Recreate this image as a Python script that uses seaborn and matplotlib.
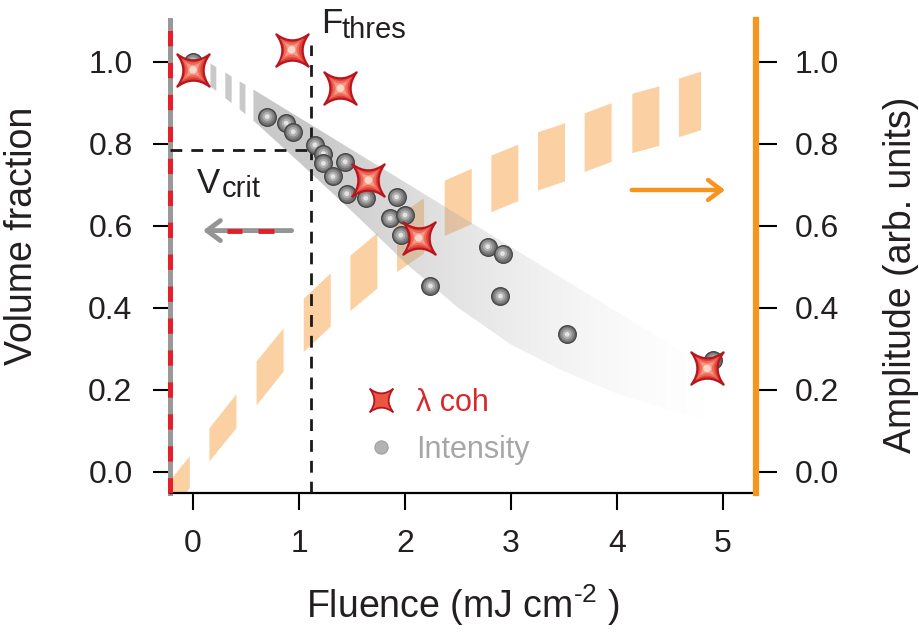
import numpy as np
import pandas as pd
import matplotlib
matplotlib.use("Agg")
import matplotlib.pyplot as plt
import seaborn as sns
from matplotlib.path import Path
from matplotlib.lines import Line2D
from matplotlib.ticker import FormatStrFormatter

# ---------------- data ----------------
intensity_fluence = [0.0, 0.70, 0.88, 0.945, 1.15, 1.23, 1.23, 1.32, 1.435, 1.45,
                     1.63, 1.86, 1.92, 1.96, 2.00, 2.24, 2.78, 2.90, 2.92, 3.53, 4.91]
intensity_value = [1.0, 0.866, 0.85, 0.829, 0.797, 0.776, 0.752, 0.72, 0.756, 0.678,
                   0.667, 0.618, 0.67, 0.577, 0.626, 0.453, 0.549, 0.428, 0.532, 0.335, 0.272]

coh_fluence = [0.0, 0.93, 1.39, 1.655, 2.13, 4.85]
coh_value = [0.98, 1.029, 0.935, 0.711, 0.570, 0.252]

# amplitude band (orange, dashed): boundaries of each dash, upper / lower edge
amp_x = [-0.29, -0.035, 0.15, 0.405, 0.595, 0.85, 1.04, 1.295, 1.48, 1.735, 1.92, 2.175,
         2.37, 2.625, 2.81, 3.065, 3.25, 3.505, 3.69, 3.945, 4.14, 4.395, 4.58, 4.79]
amp_upper = [-0.043, 0.039, 0.107, 0.190, 0.270, 0.351, 0.423, 0.485, 0.528, 0.583, 0.623, 0.668,
             0.711, 0.740, 0.772, 0.799, 0.829, 0.851, 0.875, 0.900, 0.923, 0.941, 0.960, 0.977]
amp_lower = [-0.118, -0.039, 0.026, 0.107, 0.163, 0.245, 0.293, 0.355, 0.393, 0.448, 0.488, 0.533,
             0.576, 0.605, 0.634, 0.661, 0.687, 0.709, 0.732, 0.757, 0.778, 0.796, 0.817, 0.834]

# intensity guide band (grey wedge): first three pairs are stripes, then solid
band_x = [0.16, 0.215, 0.30, 0.36, 0.435, 0.49, 0.57, 1.0, 1.5, 2.0, 2.5, 3.0, 3.5, 4.0, 4.5, 4.9]
band_upper = [0.997, 0.988, 0.975, 0.965, 0.953, 0.945, 0.932, 0.864, 0.785, 0.706, 0.627,
              0.548, 0.469, 0.390, 0.311, 0.248]
band_lower = [0.940, 0.930, 0.912, 0.900, 0.885, 0.873, 0.856, 0.755, 0.635, 0.510, 0.400,
              0.310, 0.245, 0.190, 0.150, 0.125]

F_THRES = 1.115
V_CRIT = 0.784
x_ticks = [0, 1, 2, 3, 4, 5]
y_ticks = [0.0, 0.2, 0.4, 0.6, 0.8, 1.0]
XMIN, XMAX = -0.217, 5.307
YMIN, YMAX = -0.052, 1.102

# ---------------- style ----------------
sns.set_theme(style="ticks")
plt.rcParams["font.family"] = ["Liberation Sans", "DejaVu Sans"]
plt.rcParams["mathtext.fontset"] = "custom"
plt.rcParams["mathtext.rm"] = "Liberation Sans"
plt.rcParams["mathtext.it"] = "Liberation Sans:italic"
plt.rcParams["lines.scale_dashes"] = False
TXT = "#231f20"
ORANGE = "#f7941d"
RED = "#e3202a"

fig = plt.figure(figsize=(9.19, 6.40), dpi=100)
ax = fig.add_axes([0.185, 0.2297, 0.6371, 0.7393])

# orange dashed amplitude band
for i in range(0, len(amp_x) - 1, 2):
    ax.fill_between(amp_x[i:i + 2], amp_lower[i:i + 2], amp_upper[i:i + 2],
                    color="#fbd1a4", lw=0, zorder=1)

# grey wedge: stripes
GREY = "#9e9e9e"
for i in range(0, 6, 2):
    ax.fill_between(band_x[i:i + 2], band_lower[i:i + 2], band_upper[i:i + 2],
                    color=GREY, alpha=0.55, lw=0, zorder=2)
# grey wedge: solid part with fading gradient
poly = ax.fill_between(band_x[6:], band_lower[6:], band_upper[6:],
                       facecolor="none", edgecolor="none", zorder=2)
gx = np.linspace(band_x[6], band_x[-1], 400)
alpha = np.where(gx < 1.2, 0.55, 0.55 * np.clip((5.0 - gx) / 3.8, 0, 1) ** 1.6)
rgba = np.zeros((1, gx.size, 4))
rgba[..., :3] = 0.62
rgba[0, :, 3] = alpha
im = ax.imshow(rgba, extent=[band_x[6], band_x[-1], min(band_lower), max(band_upper)],
               aspect="auto", origin="lower", zorder=2, interpolation="bilinear")
im.set_clip_path(poly.get_paths()[0], transform=ax.transData)

# threshold dashed lines
ax.plot([F_THRES, F_THRES], [YMIN, 1.04], color="#1a1a1a", lw=2.0,
        ls=(0, (8.5, 6.5)), zorder=3)
ax.plot([XMIN, F_THRES], [V_CRIT, V_CRIT], color="#1a1a1a", lw=2.0,
        ls=(0, (8.5, 6.5)), zorder=3)

# intensity spheres (layered shading)
sphere_layers = [(160, "#6f6f6f", "#474747", 1.0), (95, "#8c8c8c", "none", 0),
                 (45, "#b0b0b0", "none", 0), (12, "#e4e4e4", "none", 0)]
for k, (xi, yi) in enumerate(zip(intensity_fluence, intensity_value)):
    for j, (s, fc, ec, lw) in enumerate(sphere_layers):
        sns.scatterplot(x=[xi], y=[yi], s=s, color=fc, edgecolor=ec, linewidth=lw,
                        ax=ax, zorder=4 + k * 0.01 + j * 0.001, legend=False)

# lambda_coh stars
star = Path([(1, 1), (0, 0.25), (-1, 1), (-0.25, 0), (-1, -1), (0, -0.25), (1, -1),
             (0.25, 0), (1, 1), (1, 1)],
            [Path.MOVETO, Path.CURVE3, Path.CURVE3, Path.CURVE3, Path.CURVE3,
             Path.CURVE3, Path.CURVE3, Path.CURVE3, Path.CURVE3, Path.CLOSEPOLY])
df_coh = pd.DataFrame({"fluence": coh_fluence, "value": coh_value})
star_layers = [(540, "#e2413a", "#b8161e", 1.6), (280, "#ee6a58", "none", 0),
               (120, "#f59a85", "none", 0)]
for j, (s, fc, ec, lw) in enumerate(star_layers):
    sns.scatterplot(data=df_coh, x="fluence", y="value", s=s, marker=star, color=fc,
                    edgecolor=ec, linewidth=lw, ax=ax, zorder=6 + j * 0.01, legend=False)
sns.scatterplot(data=df_coh, x="fluence", y="value", s=30, marker="o", color="#fcd6c8",
                edgecolor="none", linewidth=0, ax=ax, zorder=6.1, legend=False)

# arrows
ax.annotate("", xy=(0.094, 0.588), xytext=(0.93, 0.588),
            arrowprops=dict(arrowstyle="->,head_length=0.8,head_width=0.6",
                            color="#959595", lw=3.5, shrinkA=0, shrinkB=0), zorder=5)
ax.plot([0.32, 0.46], [0.588, 0.588], color=RED, lw=3.5, solid_capstyle="butt", zorder=5.1)
ax.plot([0.61, 0.76], [0.588, 0.588], color=RED, lw=3.5, solid_capstyle="butt", zorder=5.1)
ax.annotate("", xy=(5.02, 0.687), xytext=(4.14, 0.687),
            arrowprops=dict(arrowstyle="->,head_length=0.8,head_width=0.6",
                            color=ORANGE, lw=3.2, shrinkA=0, shrinkB=0), zorder=5)

# annotations
ax.text(1.21, 1.069, "F", fontsize=25, color=TXT, ha="left", va="baseline")
ax.text(1.40, 1.058, "thres", fontsize=21, color=TXT, ha="left", va="baseline")
ax.text(0.035, 0.68, "V", fontsize=25, color=TXT, ha="left", va="baseline")
ax.text(0.27, 0.67, "crit", fontsize=21, color=TXT, ha="left", va="baseline")

# legend
handles = [Line2D([], [], ls="none", marker=star, ms=16.5, mfc="#ea5544", mec="#b8161e", mew=1.3),
           Line2D([], [], ls="none", marker="o", ms=9.5, mfc="#b3b3b3", mec="#a0a0a0", mew=0.8)]
leg = ax.legend(handles, ["\u03bb coh", "Intensity"], loc="upper left",
                bbox_to_anchor=(0.335, 0.222), frameon=False, fontsize=22,
                handlelength=1.0, handletextpad=0.62, labelspacing=0.55, borderpad=0,
                borderaxespad=0)
leg.get_texts()[0].set_color("#d52b2e")
leg.get_texts()[1].set_color("#a6a6a6")

# axes & spines
ax.set_xlim(XMIN, XMAX)
ax.set_ylim(YMIN, YMAX)
ax.set_xticks(x_ticks)
ax.set_yticks(y_ticks)
ax.yaxis.set_major_formatter(FormatStrFormatter("%.1f"))
ax.tick_params(axis="both", direction="out", length=12, width=1.5, color="black",
               labelsize=23, labelcolor=TXT)
ax.tick_params(axis="y", pad=15)
ax.tick_params(axis="x", pad=14)
ax.spines["top"].set_visible(False)
ax.spines["right"].set_visible(False)
ax.spines["bottom"].set_color("black")
ax.spines["bottom"].set_linewidth(1.6)
ax.spines["left"].set_color("#999999")
ax.spines["left"].set_linewidth(3.6)
ax.axvline(XMIN, color=RED, lw=3.6, ls=(0, (11, 12)), clip_on=False, zorder=8)

ax.set_xlabel("Fluence (mJ cm$^{\u2010 2}$ )", fontsize=27, color=TXT)
ax.xaxis.set_label_coords(0.5, -0.19)
ax.set_ylabel("Volume fraction", fontsize=27, color=TXT)
ax.yaxis.set_label_coords(-0.222, 0.543)

ax2 = ax.twinx()
ax2.set_ylim(YMIN, YMAX)
ax2.set_yticks(y_ticks)
ax2.yaxis.set_major_formatter(FormatStrFormatter("%.1f"))
ax2.tick_params(axis="y", direction="out", length=15, width=1.5, color="black",
                labelsize=23, labelcolor=TXT, pad=13)
for side in ["top", "left", "bottom"]:
    ax2.spines[side].set_visible(False)
ax2.spines["right"].set_color(ORANGE)
ax2.spines["right"].set_linewidth(4.5)
ax2.set_ylabel("Amplitude (arb. units)", fontsize=27, color=TXT)
ax2.yaxis.set_label_coords(1.218, 0.461)

fig.savefig("out.png", dpi=100)
